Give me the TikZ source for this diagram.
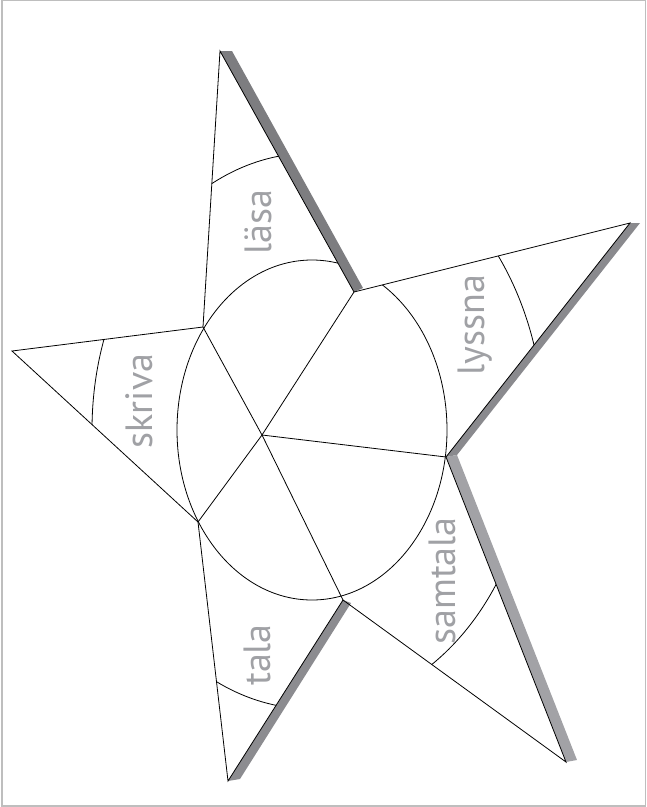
\documentclass[tikz,border=0pt]{standalone}
\usepackage{fontspec}
\setmainfont{PT Sans}
\definecolor{labelgray}{RGB}{160,161,165}
\definecolor{framegray}{RGB}{190,190,190}
\definecolor{shadetop}{RGB}{125,125,128}
\definecolor{shaderight}{RGB}{138,138,142}
\definecolor{shadelow}{RGB}{162,162,166}
\definecolor{shadeleft}{RGB}{140,140,144}

\begin{document}
\begin{tikzpicture}[x=1pt,y=-1pt,
  edge/.style={draw=black,line width=0.8pt,line join=miter},
  band/.style={fill=#1,draw=none},
  skill/.style={text=labelgray,rotate=90,inner sep=0pt,font=\fontsize{38}{40}\selectfont}]
  \useasboundingbox (0,0) rectangle (647,807);
  \draw[framegray,line width=1.2pt] (2,0.6) rectangle (645.5,806);
  % star tips and notches
  \coordinate (tipT) at (220,51);
  \coordinate (tipR) at (630,223);
  \coordinate (tipBR) at (566,762);
  \coordinate (tipBL) at (228,781);
  \coordinate (tipL) at (12,351);
  \coordinate (vA) at (354,292);
  \coordinate (vB) at (446,457);
  \coordinate (vC) at (343,600);
  \coordinate (vD) at (198,522);
  \coordinate (vE) at (203,327);
  \coordinate (ctr) at (262,435);
  \coordinate (mid) at (312,430);
  % shadows along the lit edges
  \fill[band=shadetop] (tipT) -- (232,51) -- (363,288) -- (vA) -- cycle;
  \fill[band=shaderight] (tipR) -- (640,223) -- (457,455) -- (vB) -- cycle;
  \fill[band=shadelow] (vB) -- (457,455) -- (577,760) -- (tipBR) -- cycle;
  \fill[band=shadeleft] (vC) -- (351,603) -- (240,779) -- (tipBL) -- cycle;
  % inner ring
  \begin{scope}
    \clip (tipT) -- (vA) -- (tipR) -- (vB) -- (tipBR) -- (vC) -- (tipBL) -- (vD) -- (tipL) -- (vE) -- cycle;
    \draw[edge] (mid) ellipse [x radius=135pt,y radius=170pt];
  \end{scope}
  % outer arcs, one per point
  \begin{scope}
    \clip (vE) -- (tipT) -- (vA) -- cycle;
    \draw[edge] (mid) ellipse [x radius=219pt,y radius=277pt];
  \end{scope}
  \begin{scope}
    \clip (vA) -- (tipR) -- (vB) -- cycle;
    \draw[edge] (mid) ellipse [x radius=232pt,y radius=292pt];
  \end{scope}
  \begin{scope}
    \clip (vB) -- (tipBR) -- (vC) -- cycle;
    \draw[edge] (mid) ellipse [x radius=221pt,y radius=279pt];
  \end{scope}
  \begin{scope}
    \clip (vC) -- (tipBL) -- (vD) -- cycle;
    \draw[edge] (mid) ellipse [x radius=221pt,y radius=279pt];
  \end{scope}
  \begin{scope}
    \clip (vD) -- (tipL) -- (vE) -- cycle;
    \draw[edge] (mid) ellipse [x radius=220pt,y radius=278pt];
  \end{scope}
  % outline and spokes
  \draw[edge] (tipT) -- (vA) -- (tipR) -- (vB) -- (tipBR) -- (vC) -- (tipBL) -- (vD) -- (tipL) -- (vE) -- cycle;
  \foreach \v in {vA,vB,vC,vD,vE}
    \draw[edge] (ctr) -- (\v);
  % labels
  \node[skill] (lasa) at (258,222) {läsa};
  \node[skill] (lyssna) at (475,325) {lyssna};
  \node[skill] (skriva) at (139,401) {skriva};
  \node[skill] (tala) at (257,655) {tala};
  \node[skill] (samtala) at (442,581) {samtala};
\end{tikzpicture}
\end{document}
